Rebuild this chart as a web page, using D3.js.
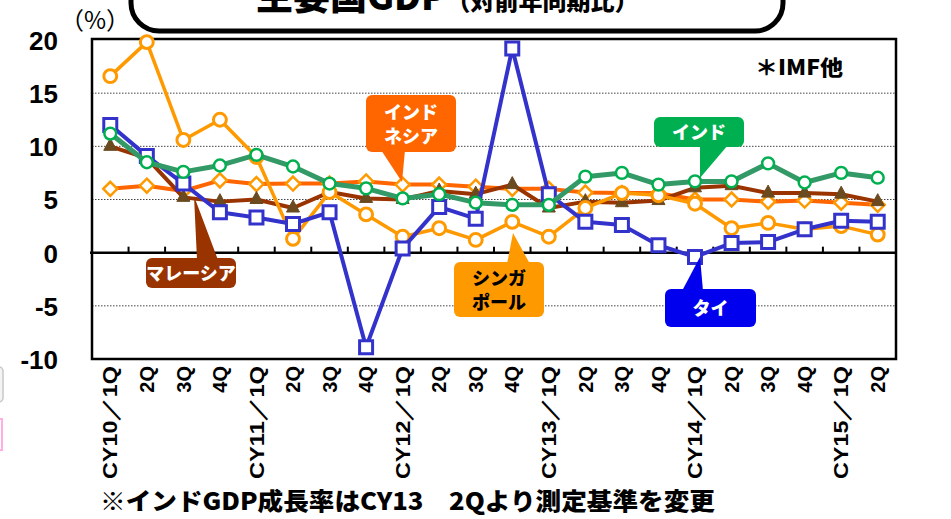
<!DOCTYPE html>
<html><head><meta charset="utf-8">
<script src="https://cdn.jsdelivr.net/npm/d3@7"></script>
<style>html,body{margin:0;padding:0;background:#fff;overflow:hidden}</style>
</head><body><svg id="c" width="951" height="519"></svg>
<script>
const categories = ["CY10／1Q","2Q","3Q","4Q","CY11／1Q","2Q","3Q","4Q","CY12／1Q","2Q","3Q","4Q","CY13／1Q","2Q","3Q","4Q","CY14／1Q","2Q","3Q","4Q","CY15／1Q","2Q"];
const yTicks = [-10,-5,0,5,10,15,20];
const thai      = [12.0, 9.1, 6.5, 3.8, 3.3, 2.7, 3.8, -8.9, 0.4, 4.3, 3.2, 19.2, 5.5, 2.9, 2.6, 0.7, -0.4, 0.9, 1.0, 2.2, 3.0, 2.9];
const singapore = [16.6, 19.8, 10.6, 12.5, 9.0, 1.3, 5.7, 3.6, 1.5, 2.3, 1.2, 2.9, 1.5, 4.2, 5.6, 5.4, 4.6, 2.3, 2.8, 2.2, 2.5, 1.7];
const indonesia = [6.0, 6.3, 5.8, 6.8, 6.45, 6.5, 6.5, 6.7, 6.4, 6.4, 6.2, 6.0, 6.0, 5.65, 5.6, 5.6, 5.0, 5.0, 4.8, 4.9, 4.7, 4.5];
const india     = [11.2, 8.5, 7.6, 8.2, 9.2, 8.1, 6.5, 6.05, 5.1, 5.5, 4.7, 4.5, 4.5, 7.15, 7.5, 6.4, 6.7, 6.7, 8.4, 6.6, 7.5, 7.05];
const malaysia  = [10.0, 8.9, 5.2, 4.8, 5.0, 4.2, 5.7, 5.1, 5.0, 5.8, 5.5, 6.4, 4.2, 4.8, 4.7, 4.9, 6.1, 6.3, 5.6, 5.6, 5.5, 4.8];

const svg = d3.select("#c");
const L = 92, R = 896, T = 40, B = 359;
const x = d3.scaleBand().domain(d3.range(categories.length)).range([L, R]);
const cx = i => x(i) + x.bandwidth() / 2;
const y = d3.scaleLinear().domain([-10, 20]).range([B, T]);

// left-edge artifacts
svg.append("rect").attr("x",-12).attr("y",367).attr("width",15).attr("height",35).attr("rx",4)
  .attr("fill","#f4f4f4").attr("stroke","#c8c8c8").attr("stroke-width",1.5);
svg.append("rect").attr("x",-12).attr("y",419).attr("width",14).attr("height",31)
  .attr("fill","#fff").attr("stroke","#ffb0e0").attr("stroke-width",2);

// title box
svg.append("rect").attr("x",131).attr("y",-40).attr("width",652).attr("height",71).attr("rx",28)
  .attr("fill","#fff").attr("stroke","#000").attr("stroke-width",5);
const tt = svg.append("text").attr("x",256).attr("y",10).attr("font-family","'Noto Sans CJK JP'").attr("font-weight",900);
tt.append("tspan").attr("font-size",37).text("主要国GDP");
tt.append("tspan").attr("font-size",24).text("（対前年同期比）");

// grid
svg.append("g").selectAll("line").data(yTicks.filter(v => v !== 0 && v !== 20 && v !== -10)).join("line")
  .attr("x1",L).attr("x2",R).attr("y1",d=>y(d)).attr("y2",d=>y(d))
  .attr("stroke","#444").attr("stroke-width",1).attr("stroke-dasharray","1.5,1.5");

// y axis labels
const ya = svg.append("g").attr("transform",`translate(${L},0)`)
  .call(d3.axisLeft(y).tickValues(yTicks).tickSize(0).tickPadding(34).tickFormat(d => d < 0 ? "-" + Math.abs(d) : d));
ya.select(".domain").remove();
ya.selectAll("text").attr("font-family","'Liberation Sans',Arial,sans-serif").attr("font-weight","bold")
  .attr("font-size",26).attr("fill","#000").attr("dy","0.36em");

svg.append("text").attr("x",95).attr("y",29).attr("text-anchor","middle")
  .attr("font-family","'Noto Sans CJK JP'").attr("font-size",24).text("（%）");

// zero axis
svg.append("line").attr("x1",L-2).attr("x2",R).attr("y1",y(0)).attr("y2",y(0)).attr("stroke","#000").attr("stroke-width",2.5);
svg.append("g").selectAll("line").data(d3.range(1, categories.length)).join("line")
  .attr("x1",d=>x(d)).attr("x2",d=>x(d)).attr("y1",y(0)).attr("y2",y(0)-6)
  .attr("stroke","#000").attr("stroke-width",2);

// frame
svg.append("rect").attr("x",L).attr("y",T-1).attr("width",R-L).attr("height",B-T+1)
  .attr("fill","none").attr("stroke","#000").attr("stroke-width",2.5);

// x labels
const xl = svg.append("g");
categories.forEach((c, i) => {
  const t = xl.append("text")
    .attr("transform",`translate(${cx(i)},366) rotate(-90)`)
    .attr("text-anchor","end").attr("dy","0.36em")
    .attr("font-family","'Liberation Sans',Arial,sans-serif").attr("font-weight","bold").attr("font-size",20)
    .text(c);
  if (c.length > 3) t.attr("textLength",113).attr("lengthAdjust","spacingAndGlyphs");
});

const line = d3.line().x((d,i)=>cx(i)).y(d=>y(d));

function drawSeries(data, lineColor, lw, marker) {
  const g = svg.append("g");
  g.append("path").datum(data).attr("d",line).attr("fill","none").attr("stroke",lineColor)
    .attr("stroke-width",lw).attr("stroke-linejoin","round");
  const m = g.selectAll(".m").data(data).join("path").attr("class","m")
    .attr("transform",(d,i)=>`translate(${cx(i)},${y(d)})`);
  marker(m);
}
drawSeries(indonesia, "#FF6600", 4, m => m.attr("d","M0,-7L7,0L0,7L-7,0Z").attr("fill","#fff").attr("stroke","#FF9900").attr("stroke-width",2.5));
drawSeries(malaysia, "#993300", 4, m => m.attr("d","M0,-8L6.5,4L-6.5,4Z").attr("fill","#6B4A1F").attr("stroke","#6B4A1F").attr("stroke-width",1));
drawSeries(singapore, "#FF9900", 3.5, m => m.attr("d",d3.symbol(d3.symbolCircle, 130)()).attr("fill","#fff").attr("stroke","#FF9900").attr("stroke-width",3));
drawSeries(thai, "#3333CC", 4, m => m.attr("d","M-6.5,-6.5H6.5V6.5H-6.5Z").attr("fill","#fff").attr("stroke","#3333CC").attr("stroke-width",3));
drawSeries(india, "#339966", 5, m => m.attr("d",d3.symbol(d3.symbolCircle, 110)()).attr("fill","#fff").attr("stroke","#00B050").attr("stroke-width",2.5));

// IMF note
svg.append("text").attr("x",755).attr("y",75).attr("font-family","'Noto Sans CJK JP'").attr("font-weight",900)
  .attr("font-size",21).attr("textLength",88).attr("lengthAdjust","spacingAndGlyphs").text("＊IMF他");

// callouts
function callout(rx, ry, w, h, tri, color, lines, txtColor, ty) {
  const g = svg.append("g");
  g.append("path").attr("d",`M${tri[0]}L${tri[1]}L${tri[2]}Z`).attr("fill",color);
  g.append("rect").attr("x",rx).attr("y",ry).attr("width",w).attr("height",h).attr("rx",6).attr("fill",color);
  lines.forEach((s, k) => g.append("text").attr("x",rx + w/2).attr("y",ty[k]).attr("text-anchor","middle")
    .attr("font-family","'Noto Sans CJK JP'").attr("font-weight",900).attr("font-size",18)
    .attr("fill",txtColor).text(s));
}
callout(366, 95, 90, 57, ["381,150","405,150","402,182"], "#FF6600", ["インド","ネシア"], "#fff", [119, 143]);
callout(654, 117, 90, 30, ["700,145","728,145","700,178"], "#00B050", ["インド"], "#fff", [139]);
callout(146, 258, 90, 30, ["197,260","218,260","194,196"], "#993300", ["マレーシア"], "#fff", [280]);
callout(454, 262, 90, 55, ["507,264","530,264","513,233"], "#FF9900", ["シンガ","ポール"], "#000", [285, 309]);
callout(665, 289, 91, 38, ["682,291","703,291","700,257"], "#0000EE", ["タイ"], "#fff", [315]);

// footnote
svg.append("text").attr("x",100).attr("y",510).attr("font-family","'Noto Sans CJK JP'").attr("font-weight",900)
  .attr("font-size",24).attr("textLength",615).attr("lengthAdjust","spacingAndGlyphs")
  .text("※インドGDP成長率はCY13　2Qより測定基準を変更");
</script></body></html>
